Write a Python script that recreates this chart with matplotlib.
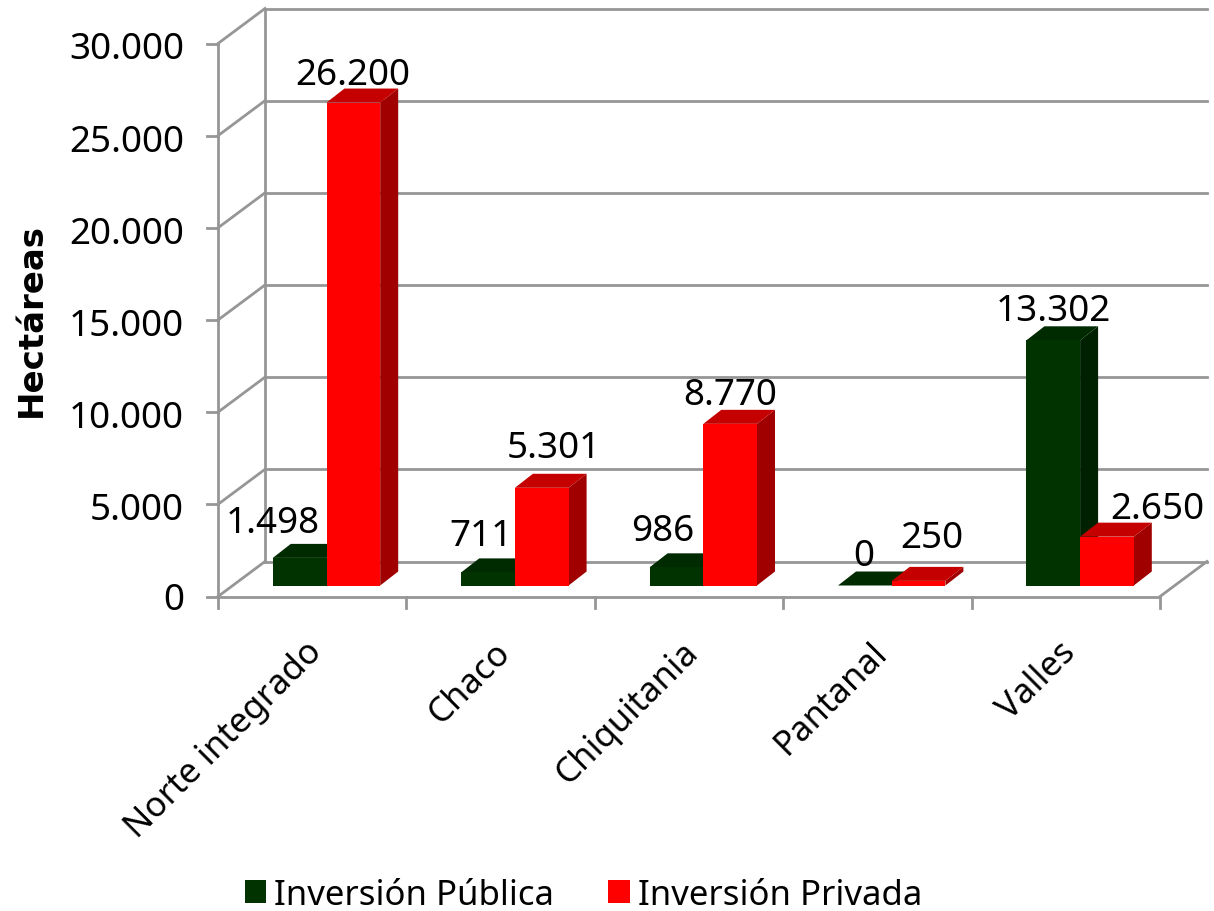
import matplotlib
matplotlib.use("Agg")
import matplotlib.pyplot as plt
from matplotlib.patches import Polygon, Patch
from matplotlib.transforms import Affine2D

categories = ["Norte integrado", "Chaco", "Chiquitania", "Pantanal", "Valles"]
publica = [1498, 711, 986, 0, 13302]
privada = [26200, 5301, 8770, 250, 2650]
pub_labels = ["1.498", "711", "986", "0", "13.302"]
pri_labels = ["26.200", "5.301", "8.770", "250", "2.650"]
y_ticks = [0, 5000, 10000, 15000, 20000, 25000, 30000]
y_ticklabels = ["0", "5.000", "10.000", "15.000", "20.000", "25.000", "30.000"]
series_names = ["Inversión Pública", "Inversión Privada"]

W, H = 1214, 912
FONT = ["Noto Sans", "DejaVu Sans"]
plt.rcParams["font.family"] = FONT
fig = plt.figure(figsize=(W / 100, H / 100), dpi=100, facecolor="white")
L, R, T, B = 218, 1160, 44.5, 597.5
ax = fig.add_axes([L / W, 1 - B / H, (R - L) / W, (B - T) / H])
ax.set_xlim(0, 5)
ax.set_ylim(0, 30000)
ax.axis("off")

GRID = "#969696"
LW = 2.0
def off(dx, dy):
    return ax.transData + Affine2D().translate(dx, dy)

def pixel_line(xs, ys):
    fig.add_artist(plt.Line2D(xs, ys, transform=None, color=GRID, lw=LW, zorder=1))

wall = off(47, 35)
for v in y_ticks:
    ax.plot([0, 5], [v, v], transform=wall, color=GRID, lw=LW, clip_on=False, zorder=1)
    p0 = ax.transData.transform((0, v))
    pixel_line([p0[0], p0[0] + 47], [p0[1], p0[1] + 35])
    pixel_line([p0[0] - 11, p0[0]], [p0[1], p0[1]])
ax.plot([0, 0], [0, 30000], transform=wall, color=GRID, lw=LW, clip_on=False, zorder=1)
ax.plot([0, 0], [0, 30000], color=GRID, lw=LW, clip_on=False, zorder=1)
ax.plot([0, 5], [0, 0], color=GRID, lw=LW, clip_on=False, zorder=1)
p5 = ax.transData.transform((5, 0))
pixel_line([p5[0], p5[0] + 47], [p5[1], p5[1] + 35])
for i in range(6):
    p = ax.transData.transform((i, 0))
    pixel_line([p[0], p[0]], [p[1], p[1] - 11])

# bars
BW = 0.285
front = off(14.3, 11)
dx_px, dy_px = 18, 14
styles = [("#003300", "#002100", "#002a00"), ("#ff0000", "#a00000", "#c40000")]
for i in range(5):
    for j, vals in enumerate((publica, privada)):
        x0 = i + 0.5 + (j - 1) * BW
        x1 = x0 + BW
        v = vals[i]
        c, cs, ct = styles[j]
        z = 3 + i + j * 0.1
        ax.bar(x0, v, BW, align="edge", color=c, transform=front, clip_on=False, zorder=z + 0.02)
        pf = front.transform([(x1, 0), (x1, v), (x0, v)])
        side = [pf[0], pf[1], pf[1] + (dx_px, dy_px), pf[0] + (dx_px, dy_px)]
        top = [pf[2], pf[1], pf[1] + (dx_px, dy_px), pf[2] + (dx_px, dy_px)]
        ax.add_patch(Polygon(side, closed=True, transform=None, facecolor=cs, edgecolor="none",
                             clip_on=False, zorder=z))
        ax.add_patch(Polygon(top, closed=True, transform=None, facecolor=ct, edgecolor="none",
                             clip_on=False, zorder=z + 0.01))

# value labels (pixel offsets from the top-front centre of each bar)
pub_off = [(-27, 35), (-7, 36), (-14, 36), (-1, 29), (0, 29)]
pri_off = [(-1, 28), (12, 40), (0, 29), (13, 43), (50, 28)]
FS = 26.5
for i in range(5):
    for j, (vals, labs, offs) in enumerate(((publica, pub_labels, pub_off), (privada, pri_labels, pri_off))):
        xc = i + 0.5 + (j - 0.5) * BW
        ax.text(xc, vals[i], labs[i], transform=off(14.3 + offs[i][0], 11 + offs[i][1]),
                ha="center", va="center", fontsize=FS, color="black", zorder=20)

# y tick labels
for v, s in zip(y_ticks, y_ticklabels):
    ax.text(0, v, s, transform=off(-34, -6 if v else -4), ha="right", va="center", fontsize=FS, color="black")

# category labels
for i, c in enumerate(categories):
    ax.text(i + 0.5, 0, c, transform=off(-7, -38), rotation=45, rotation_mode="anchor",
            ha="right", va="top", fontsize=25, color="black")

fig.text(31 / W, 1 - 320 / H, "Hectáreas", rotation=90, ha="center", va="center",
         fontsize=24.5, fontweight="bold", family="DejaVu Sans", color="black")

handles = [Patch(facecolor=styles[0][0]), Patch(facecolor=styles[1][0])]
fig.legend(handles, series_names, loc="center", bbox_to_anchor=(583.5 / W, 1 - 896 / H), ncol=2,
           frameon=False, fontsize=25, handlelength=0.63, handleheight=0.63,
           handletextpad=0.23, columnspacing=1.55, borderpad=0)

fig.savefig("out.png", dpi=100, facecolor="white")
